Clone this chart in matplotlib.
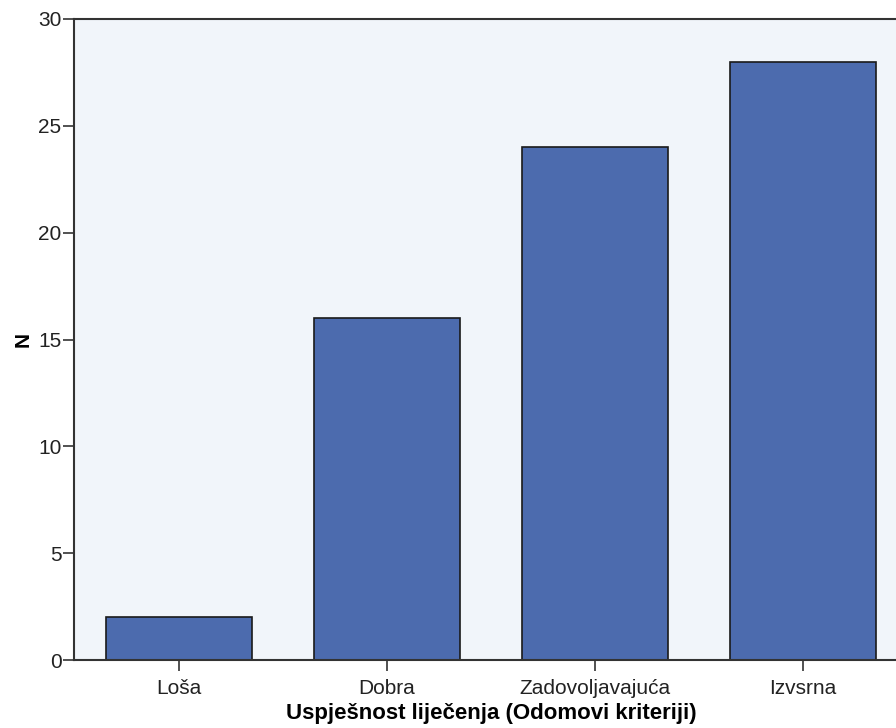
import matplotlib.pyplot as plt

kategorije = ['Loša', 'Dobra', 'Zadovoljavajuća', 'Izvsrna']
n_vrijednosti = [2, 16, 24, 28]
y_ticks = [0, 5, 10, 15, 20, 25, 30]

plt.rcParams['font.family'] = ['Liberation Sans', 'DejaVu Sans']

fig = plt.figure(figsize=(8.96, 7.28), dpi=100)
# desna strana osi izlazi malo izvan slike, kao na originalu
ax = fig.add_axes([74 / 896, 68 / 728, 834 / 896, 641 / 728])
ax.set_facecolor('#F1F5FA')

x = list(range(len(kategorije)))
ax.bar(x, n_vrijednosti, width=0.70, color='#4C6BAE', edgecolor='#1a1a1a', linewidth=1.2)

ax.set_xlim(-0.505, len(kategorije) - 0.495)
ax.set_ylim(0, 30)
ax.set_yticks(y_ticks)
ax.set_xticks(x)
ax.set_xticklabels(kategorije)

for s in ['left', 'bottom', 'top']:
    ax.spines[s].set_color('#333333')
    ax.spines[s].set_linewidth(1.5)
ax.spines['right'].set_visible(False)

ax.tick_params(axis='both', direction='out', length=8, width=1.2, color='#333333',
               labelsize=15, labelcolor='#222222')
ax.tick_params(axis='x', pad=6)
ax.tick_params(axis='y', pad=1)

ax.set_xlabel('Uspješnost liječenja (Odomovi kriteriji)', fontsize=16, fontweight='bold', labelpad=3)
ax.set_ylabel('N', fontsize=15, fontweight='bold', labelpad=4)

fig.savefig('out.png', dpi=100)
